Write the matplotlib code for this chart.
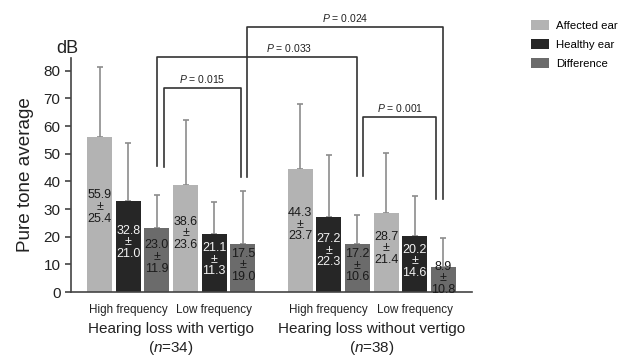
import numpy as np
import matplotlib
matplotlib.use('Agg')
import matplotlib.pyplot as plt
from matplotlib.patches import Patch

plt.rcParams['font.family'] = ['Liberation Sans', 'DejaVu Sans']
plt.rcParams['mathtext.fontset'] = 'custom'
plt.rcParams['mathtext.it'] = 'Liberation Sans:italic'
plt.rcParams['mathtext.rm'] = 'Liberation Sans'

# data (mean +- SD, dB)
series = ['Affected ear', 'Healthy ear', 'Difference']
freqs = ['High frequency', 'Low frequency']
groups = ['Hearing loss with vertigo', 'Hearing loss without vertigo']
group_n = [34, 38]

# order: group -> frequency -> series
means = [55.9, 32.8, 23.0, 38.6, 21.1, 17.5,
         44.3, 27.2, 17.2, 28.7, 20.2, 8.9]
sds = [25.4, 21.0, 11.9, 23.6, 11.3, 19.0,
       23.7, 22.3, 10.6, 21.4, 14.6, 10.8]

# brackets: (bar left, bar right, top, left leg end, right leg end, label)
brackets = [
    (2, 5, 73.8, 45.2, 41.6, '0.015'),
    (2, 8, 85.0, 45.6, 41.9, '0.033'),
    (5, 11, 95.8, 41.6, 33.6, '0.024'),
    (8, 11, 63.3, 41.9, 33.6, '0.001'),
]
bracket_shift = [(0.23, -0.05), (0.0, 0.0), (0.16, 0.0), (0.2, -0.25)]
label_shift = [0, 1.1, 0, 0]

colors = ['#b3b3b3', '#262626', '#6b6b6b']
text_colors = ['#1a1a1a', '#f2f2f2', '#1a1a1a']

fig = plt.figure(figsize=(6.21, 3.56), dpi=100)
ax = fig.add_axes([71/621, 1-292/356, 401/621, 234/356])

pos = [g*7 + f*3 + s for g in range(2) for f in range(2) for s in range(3)]
for i, (x, m, sd) in enumerate(zip(pos, means, sds)):
    s = i % 3
    ax.bar(x, m, width=0.87, color=colors[s], zorder=2,
           yerr=[[0], [sd]], error_kw=dict(ecolor='#8c8c8c', elinewidth=1.2, capsize=2.2, capthick=1.2, zorder=1))
    ax.text(x, m*0.55, '%.1f\n±\n%.1f' % (m, sd), ha='center', va='center',
            fontsize=9, color=text_colors[s], linespacing=0.95, zorder=3)

for (a, b, top, la, lb, lab), (da, db), ls in zip(brackets, bracket_shift, label_shift):
    xa = pos[a] + da
    xb = pos[b] + db
    ax.plot([xa, xa, xb, xb], [la, top, top, lb], color='#333333', lw=1.2, clip_on=False, zorder=4)
    ax.text((xa+xb)/2 + ls, top + 1.0, r'$P$ = ' + lab, ha='center', va='bottom', fontsize=7.5, color='#222222')

ax.set_xlim(-1, 13)
ax.set_ylim(0, 84.6)
ax.set_yticks(range(0, 81, 10))
ax.tick_params(axis='y', labelsize=11, length=4, width=1.1, color='#333333', labelcolor='#222222')
ax.set_xticks([pos[1], pos[4], pos[7], pos[10]])
ax.set_xticklabels(freqs*2, fontsize=8.4, color='#222222')
ax.tick_params(axis='x', length=0, pad=9)
for sp in ['top', 'right']:
    ax.spines[sp].set_visible(False)
for sp in ['left', 'bottom']:
    ax.spines[sp].set_color('#444444')
    ax.spines[sp].set_linewidth(1.2)

for g in range(2):
    xc = (pos[g*6] + pos[g*6+5]) / 2
    ax.text(xc, -0.158, groups[g], transform=ax.get_xaxis_transform(),
            ha='center', va='center', fontsize=11, color='#222222')
    ax.text(xc, -0.24, r'($n$=%d)' % group_n[g], transform=ax.get_xaxis_transform(),
            ha='center', va='center', fontsize=11, color='#222222')

ax.set_ylabel('Pure tone average', fontsize=13.6, color='#222222', labelpad=7)
ax.text(-0.01, 1.04, 'dB', transform=ax.transAxes, ha='center', va='center', fontsize=13, color='#222222')

handles = [Patch(facecolor=c) for c in colors]
fig.legend(handles, series, loc='upper left', bbox_to_anchor=(521/621, 1-10/356), frameon=False,
           fontsize=8.2, handlelength=1.6, handleheight=1.0, labelspacing=0.68, handletextpad=0.6)

fig.savefig('out.png', dpi=100, facecolor='white')
